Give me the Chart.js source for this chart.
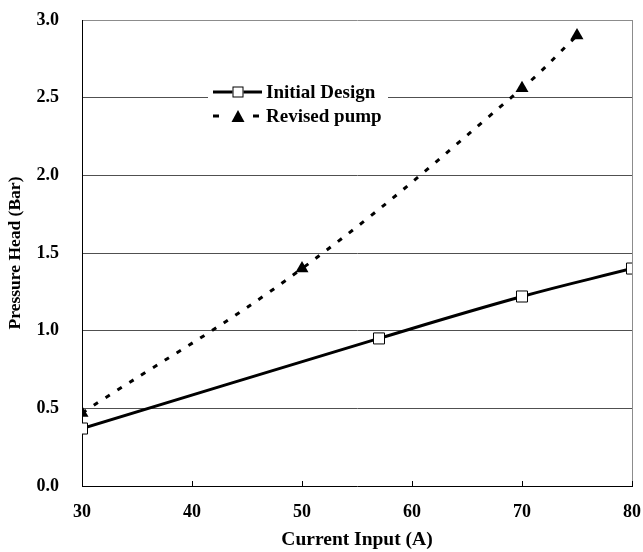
<!DOCTYPE html>
<html><head><meta charset="utf-8">
<script src="https://cdn.jsdelivr.net/npm/chart.js@4"></script>
<style>html,body{margin:0;padding:0;background:#fff}</style>
</head><body>
<canvas id="c" width="643" height="552"></canvas>
<script>
const currentInitial = [30, 57, 70, 80];
const headInitial = [0.37, 0.95, 1.22, 1.40];
const currentRevised = [30, 50, 70, 75];
const headRevised = [0.47, 1.40, 2.56, 2.90];
const seriesLabels = ['Initial Design', 'Revised pump'];
const xTitle = 'Current Input (A)';
const yTitle = 'Pressure Head (Bar)';

const FONT = '"Liberation Serif", "Times New Roman", serif';

const frameAndLegend = {
  id: 'frameAndLegend',
  afterDatasetsDraw(chart) {
    const ctx = chart.ctx, a = chart.chartArea, xs = chart.scales.x;
    ctx.save();
    ctx.strokeStyle = '#8c8c8c'; ctx.lineWidth = 1;
    ctx.beginPath(); ctx.moveTo(a.right + 0.5, a.top); ctx.lineTo(a.right + 0.5, a.bottom); ctx.stroke();
    ctx.strokeStyle = '#000';
    xs.ticks.forEach(t => {
      const px = Math.round(xs.getPixelForValue(t.value)) + 0.5;
      ctx.beginPath(); ctx.moveTo(px, a.bottom); ctx.lineTo(px, a.bottom - 5); ctx.stroke();
    });
    const lx = 208, ly = 78;
    ctx.fillStyle = '#fff';
    ctx.fillRect(lx, ly, 180, 50);
    const ds = chart.data.datasets;
    const rows = [92, 116];
    ds.forEach((d, i) => {
      const y = rows[i];
      ctx.strokeStyle = '#000'; ctx.lineWidth = d.borderWidth;
      if (d.borderDash) {
        ctx.beginPath(); ctx.moveTo(213, y); ctx.lineTo(219, y); ctx.stroke();
        ctx.beginPath(); ctx.moveTo(253, y); ctx.lineTo(259, y); ctx.stroke();
      } else {
        ctx.beginPath(); ctx.moveTo(213, y); ctx.lineTo(262, y); ctx.stroke();
      }
      const cx = 238;
      ctx.lineWidth = 1;
      if (d.pointStyle === 'rect') {
        const s = 11;
        ctx.fillStyle = '#fff';
        ctx.fillRect(cx - s / 2, y - s / 2, s, s);
        ctx.strokeRect(cx - s / 2 + 0.5, y - s / 2 + 0.5, s - 1, s - 1);
      } else {
        ctx.fillStyle = '#000';
        ctx.beginPath();
        ctx.moveTo(cx, y - 6); ctx.lineTo(cx + 6.5, y + 6); ctx.lineTo(cx - 6.5, y + 6); ctx.closePath();
        ctx.fill();
      }
      ctx.fillStyle = '#000';
      ctx.font = 'bold 19px ' + FONT;
      ctx.textAlign = 'left'; ctx.textBaseline = 'middle';
      ctx.fillText(d.label, 266, y + 1);
    });
    ctx.restore();
  }
};

new Chart(document.getElementById('c'), {
  type: 'scatter',
  data: {
    datasets: [
      {
        label: seriesLabels[0],
        data: currentInitial.map((x, i) => ({ x, y: headInitial[i] })),
        showLine: true,
        borderColor: '#000',
        borderWidth: 3,
        tension: 0.4,
        pointStyle: 'rect',
        pointRadius: 7.8,
        pointBackgroundColor: '#fff',
        pointBorderColor: '#000',
        pointBorderWidth: 1
      },
      {
        label: seriesLabels[1],
        data: currentRevised.map((x, i) => ({ x, y: headRevised[i] })),
        showLine: true,
        borderColor: '#000',
        borderWidth: 3,
        borderDash: [5, 9],
        tension: 0.4,
        pointStyle: 'triangle',
        pointRadius: 7.5,
        pointBackgroundColor: '#000',
        pointBorderColor: '#000',
        pointBorderWidth: 0
      }
    ]
  },
  options: {
    responsive: false,
    animation: false,
    layout: { padding: { top: 20, right: 11, left: 0, bottom: 0 } },
    plugins: { legend: { display: false }, tooltip: { enabled: false } },
    scales: {
      x: {
        type: 'linear', min: 30, max: 80,
        ticks: { stepSize: 10, color: '#000', padding: 16, font: { family: FONT, size: 18, weight: 'bold' } },
        grid: { display: false, drawTicks: false },
        border: { display: true, color: '#000', width: 1 },
        title: { display: true, text: xTitle, color: '#000', padding: { top: 0, bottom: 0 }, font: { family: FONT, size: 19.5, weight: 'bold' } },
        afterFit(s) { s.height = 66; s.paddingLeft = 0; s.paddingRight = 0; }
      },
      y: {
        min: 0, max: 3,
        ticks: { stepSize: 0.5, color: '#000', padding: 23, callback: v => Number(v).toFixed(1), font: { family: FONT, size: 18, weight: 'bold' } },
        grid: { drawTicks: false, color: c => c.tick.value === 3 ? '#8c8c8c' : (c.tick.value === 0 ? 'rgba(0,0,0,0)' : '#505050') },
        border: { display: true, color: '#000', width: 1 },
        title: { display: true, text: yTitle, color: '#000', padding: { top: 5, bottom: 0 }, font: { family: FONT, size: 17.5, weight: 'bold' } },
        afterFit(s) { s.width = 82; s.paddingTop = 0; s.paddingBottom = 0; }
      }
    }
  },
  plugins: [frameAndLegend]
});
</script>
</body></html>
